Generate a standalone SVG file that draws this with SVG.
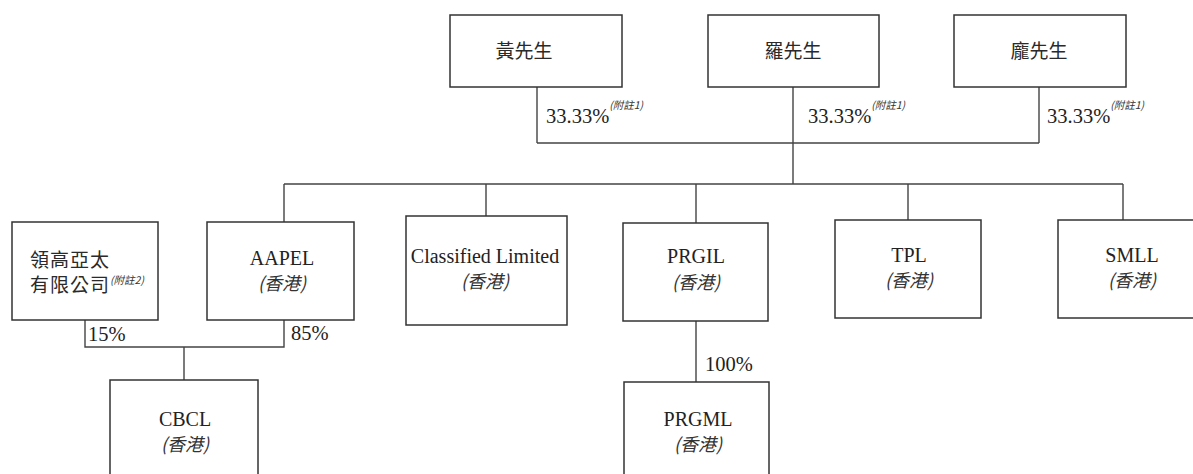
<svg xmlns="http://www.w3.org/2000/svg" width="1193" height="474" viewBox="0 0 1193 474">
<style>
.box{fill:#fff;stroke:#333;stroke-width:1.5}
.ln{fill:none;stroke:#444;stroke-width:1.4}
.t{font-family:"Liberation Serif","Noto Sans CJK TC",serif;font-size:20px;fill:#222;text-anchor:middle}
.cjk{font-family:"Noto Sans CJK TC","Liberation Serif",sans-serif;font-size:19px;fill:#2a2a2a}
.it{font-family:"Noto Sans CJK TC",sans-serif;font-size:18px;fill:#333;font-style:italic;text-anchor:middle}
.pct{font-family:"Liberation Serif",serif;font-size:20.5px;fill:#222}
.sup{font-family:"Noto Sans CJK TC",sans-serif;font-size:10.5px;fill:#333;font-style:italic}
</style>
<rect width="1193" height="474" fill="#fff"/>
<g id="connectors">
<path class="ln" d="M537 87V143M1039 87V143M537 143H1039M793 87V184M284 184H1123M284 184V222M486 184V216M696 184V223M908 184V220M1123 184V220"/>
<path class="ln" d="M85 320V347H284V320M184 347V380M696 321V382"/>
</g>
<g id="n-huang"><rect class="box" x="450" y="15" width="172" height="72"/><text class="cjk" x="524" y="58" text-anchor="middle">黃先生</text></g>
<g id="n-luo"><rect class="box" x="708" y="15" width="171" height="72"/><text class="cjk" x="793" y="58" text-anchor="middle">羅先生</text></g>
<g id="n-pang"><rect class="box" x="954" y="15" width="172" height="72"/><text class="cjk" x="1039" y="58" text-anchor="middle">龐先生</text></g>
<g id="labels-top">
<text class="pct" x="546" y="123">33.33%<tspan class="sup" dy="-14">(附註1)</tspan></text>
<text class="pct" x="808" y="123">33.33%<tspan class="sup" dy="-14">(附註1)</tspan></text>
<text class="pct" x="1047" y="123">33.33%<tspan class="sup" dy="-14">(附註1)</tspan></text>
</g>
<g id="n-linggao"><rect class="box" x="12" y="222" width="146" height="98"/><text class="cjk" x="30" y="267" letter-spacing="1">領高亞太</text><text class="cjk" x="30" y="292" letter-spacing="1">有限公司<tspan class="sup" dy="-8" letter-spacing="0">(附註2)</tspan></text></g>
<g id="n-aapel"><rect class="box" x="207" y="222" width="147" height="98"/><text class="t" x="282" y="265">AAPEL</text><text class="it" x="282" y="290">(香港)</text></g>
<g id="n-classified"><rect class="box" x="406" y="216" width="161" height="109"/><text class="t" x="485" y="263">Classified Limited</text><text class="it" x="485" y="288">(香港)</text></g>
<g id="n-prgil"><rect class="box" x="623" y="223" width="145" height="98"/><text class="t" x="696" y="263">PRGIL</text><text class="it" x="696" y="289">(香港)</text></g>
<g id="n-tpl"><rect class="box" x="835" y="220" width="146" height="98"/><text class="t" x="909" y="262">TPL</text><text class="it" x="909" y="287">(香港)</text></g>
<g id="n-smll"><rect class="box" x="1058" y="220" width="145" height="98"/><text class="t" x="1132" y="262">SMLL</text><text class="it" x="1132" y="287">(香港)</text></g>
<g id="labels-bottom">
<text class="pct" x="88" y="341">15%</text>
<text class="pct" x="291" y="340">85%</text>
<text class="pct" x="705" y="371">100%</text>
</g>
<g id="n-cbcl"><rect class="box" x="110" y="380" width="148" height="110"/><text class="t" x="185" y="426">CBCL</text><text class="it" x="185" y="451">(香港)</text></g>
<g id="n-prgml"><rect class="box" x="624" y="382" width="145" height="110"/><text class="t" x="698" y="426">PRGML</text><text class="it" x="698" y="451">(香港)</text></g>
</svg>
